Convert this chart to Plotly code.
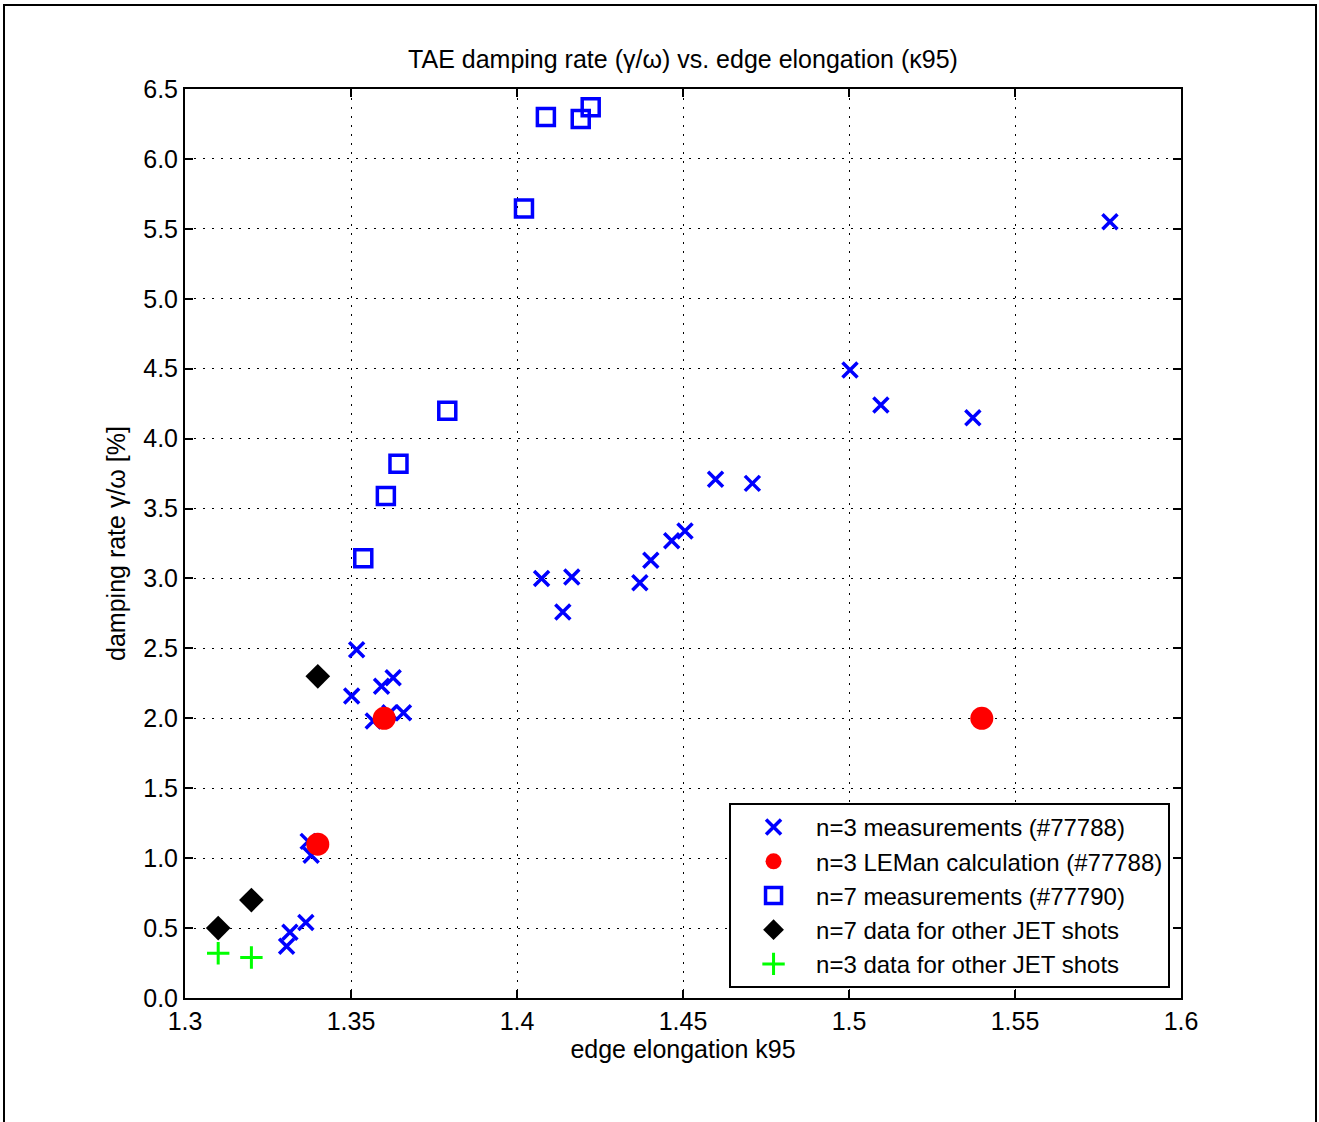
import plotly.graph_objects as go

# n=3 measurements (#77788)
meas3_x = [1.3306, 1.3316, 1.3364, 1.3371, 1.3380, 1.3502, 1.3517, 1.3567, 1.3592, 1.3617,
           1.3627, 1.3658, 1.4074, 1.4138, 1.4165, 1.4370, 1.4403, 1.4466, 1.4506, 1.4598,
           1.4709, 1.5003, 1.5096, 1.5373, 1.5786]
meas3_y = [0.37, 0.47, 0.54, 1.12, 1.02, 2.16, 2.49, 1.98, 2.23, 2.04,
           2.29, 2.04, 3.00, 2.76, 3.01, 2.97, 3.13, 3.27, 3.34, 3.71,
           3.68, 4.49, 4.24, 4.15, 5.55]

# n=3 LEMan calculation (#77788)
leman_x = [1.34, 1.36, 1.54]
leman_y = [1.10, 2.00, 2.00]

# n=7 measurements (#77790)
meas7_x = [1.3537, 1.3605, 1.3643, 1.3790, 1.4021, 1.4087, 1.4192, 1.4222]
meas7_y = [3.145, 3.59, 3.82, 4.20, 5.645, 6.30, 6.285, 6.37]

# n=7 data for other JET shots
jet7_x = [1.31, 1.32, 1.34]
jet7_y = [0.50, 0.70, 2.30]

# n=3 data for other JET shots
jet3_x = [1.31, 1.32]
jet3_y = [0.32, 0.29]

xticks = [1.3, 1.35, 1.4, 1.45, 1.5, 1.55, 1.6]
xtick_text = ["1.3", "1.35", "1.4", "1.45", "1.5", "1.55", "1.6"]
yticks = [0.0, 0.5, 1.0, 1.5, 2.0, 2.5, 3.0, 3.5, 4.0, 4.5, 5.0, 5.5, 6.0, 6.5]

FONT = "Liberation Sans, Arial, Helvetica, sans-serif"
FS = 25

fig = go.Figure()
fig.add_trace(go.Scatter(
    x=meas3_x, y=meas3_y, mode="markers", name="n=3 measurements (#77788)",
    marker=dict(symbol="x-thin-open", size=15, color="#0000ff", line=dict(width=3.5, color="#0000ff"))))
fig.add_trace(go.Scatter(
    x=leman_x, y=leman_y, mode="markers", name="n=3 LEMan calculation (#77788)",
    marker=dict(symbol="circle", size=23, color="#ff0000", line=dict(width=0))))
fig.add_trace(go.Scatter(
    x=meas7_x, y=meas7_y, mode="markers", name="n=7 measurements (#77790)",
    marker=dict(symbol="square-open", size=17, color="#0000ff", line=dict(width=3.5, color="#0000ff"))))
fig.add_trace(go.Scatter(
    x=jet7_x, y=jet7_y, mode="markers", name="n=7 data for other JET shots",
    marker=dict(symbol="diamond", size=19, color="#000000", line=dict(width=0))))
fig.add_trace(go.Scatter(
    x=jet3_x, y=jet3_y, mode="markers", name="n=3 data for other JET shots",
    marker=dict(symbol="cross-thin-open", size=16, color="#00ff00", line=dict(width=3, color="#00ff00"))))

axis_common = dict(
    showline=True, linecolor="black", linewidth=2, mirror="allticks",
    ticks="inside", ticklen=8, tickwidth=2, tickcolor="black",
    showgrid=True, gridcolor="black", gridwidth=1, griddash="2px,7px",
    zeroline=False, tickfont=dict(family=FONT, size=FS, color="black"),
)

fig.update_xaxes(range=[1.3, 1.6], tickvals=xticks, ticktext=xtick_text,
                 title=dict(text="edge elongation k95", font=dict(family=FONT, size=FS, color="black"), standoff=3),
                 **axis_common)
fig.update_yaxes(range=[0, 6.5], tickvals=yticks, tickformat=".1f",
                 title=dict(text="damping rate γ/ω [%]", font=dict(family=FONT, size=FS, color="black"), standoff=10),
                 **axis_common)

fig.update_layout(
    width=1319, height=1122,
    margin=dict(l=185, r=138, t=89, b=124, autoexpand=False),
    paper_bgcolor="white", plot_bgcolor="white",
    font=dict(family=FONT, size=FS, color="black"),
    title=dict(text="TAE damping rate (γ/ω) vs. edge elongation (κ95)", x=0.5, xanchor="center",
               xref="paper", y=1 - 59 / 1122, yanchor="middle", font=dict(family=FONT, size=FS, color="black")),
    legend=dict(x=0.989, xanchor="right", y=0.011, yanchor="bottom", bgcolor="white",
                bordercolor="black", borderwidth=2, font=dict(family=FONT, size=24, color="black"),
                itemsizing="trace", itemwidth=75, tracegroupgap=0),
    showlegend=True,
    shapes=[dict(type="rect", xref="paper", yref="paper",
                 x0=(4 - 185) / 996, x1=(1316 - 185) / 996,
                 y0=(998 - 1130) / 909, y1=(998 - 5) / 909,
                 line=dict(color="black", width=2), fillcolor="rgba(0,0,0,0)", layer="above")],
)

fig.write_html("out.html")
